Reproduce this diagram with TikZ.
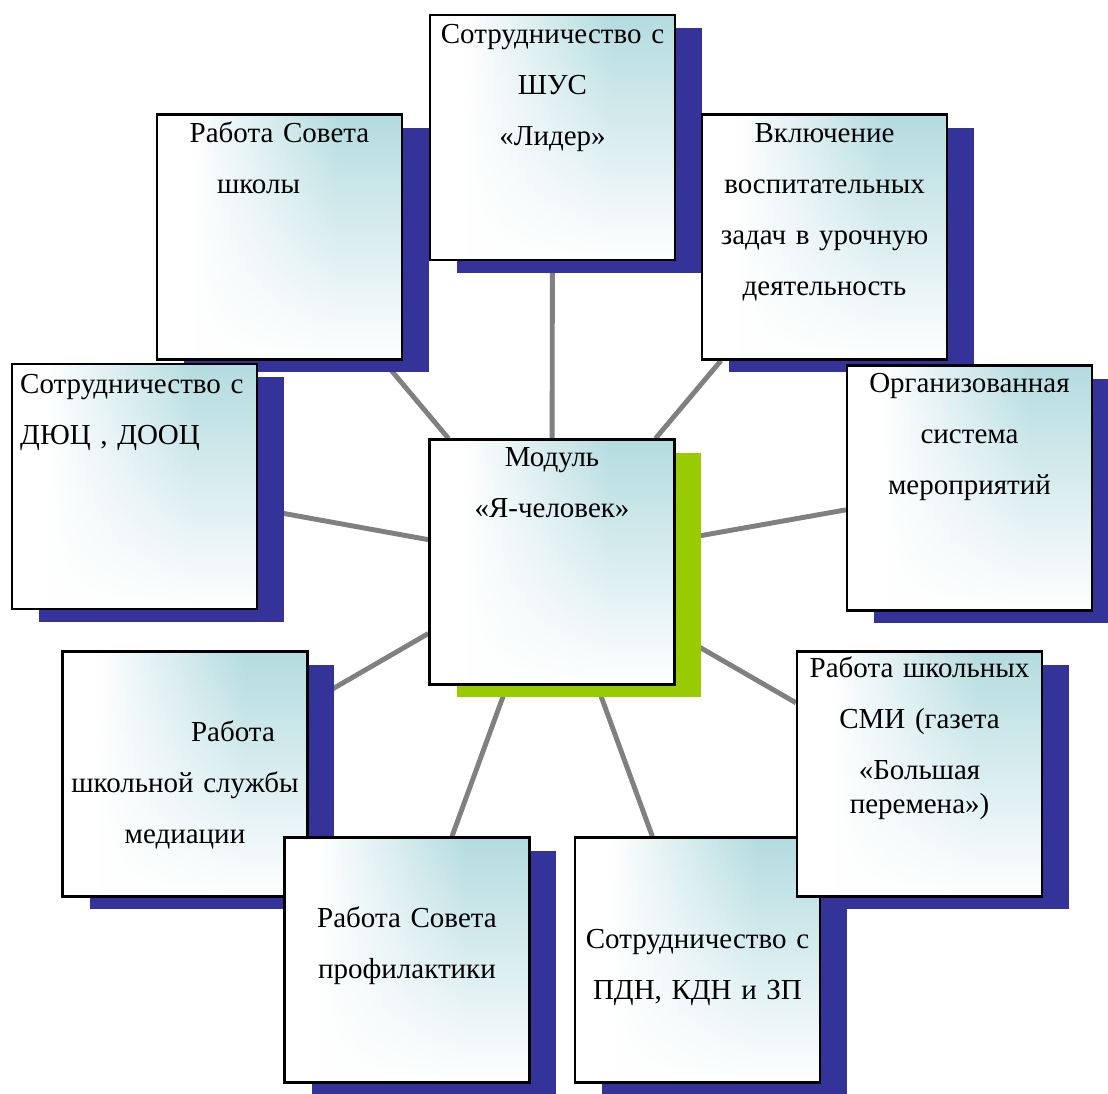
\documentclass[tikz,border=0pt]{standalone}
\usepackage{fontspec}
\setmainfont{Liberation Serif}
\usetikzlibrary{positioning,shadows,fadings,backgrounds}

\definecolor{shadowblue}{RGB}{51,51,153}
\definecolor{hubgreen}{RGB}{153,204,0}
\definecolor{boxteal}{RGB}{180,220,224}
\definecolor{linkgray}{RGB}{128,128,128}

\pgfdeclarehorizontalshading{tealside}{100bp}{color(0bp)=(white); color(32bp)=(white); color(62bp)=(boxteal); color(100bp)=(boxteal)}
\tikzfading[name=fadebottom, top color=transparent!100, middle color=transparent!62, bottom color=transparent!0]

\begin{document}
\begin{tikzpicture}[x=0.02cm,y=-0.02cm,
    panel/.style={draw=black,line width=1.3pt,minimum width=4.9cm,minimum height=4.9cm,inner sep=0pt,
        path picture={
            \shade[shading=tealside] (path picture bounding box.south west) rectangle (path picture bounding box.north east);
            \fill[white,path fading=fadebottom] (path picture bounding box.south west) rectangle (path picture bounding box.north east);}},
    box/.style={panel,general shadow={fill=shadowblue,shadow xshift=0.54cm,shadow yshift=-0.26cm}},
    hub/.style={panel,general shadow={fill=hubgreen,shadow xshift=0.54cm,shadow yshift=-0.26cm}},
    txt/.style={anchor=base,text width=4.7cm,align=center,inner sep=0pt,font=\fontsize{16.5pt}{29pt}\selectfont},
    link/.style={draw=linkgray,line width=2.8pt}]
    \useasboundingbox (0,0) rectangle (1108,1093);
    % outer ring
    \node[box] (sovet) at (279.5,237) {};
    \node[txt] (sovet-t) at ([yshift=-0.58cm]sovet.north) {Работа Совета\\\hspace*{-0.84cm}школы};
    \node[box] (shus) at (552.5,137.5) {};
    \node[txt] (shus-t) at ([yshift=-0.6cm]shus.north) {Сотрудничество с\\ШУС\\«Лидер»};
    \node[box] (vkl) at (824.5,237) {};
    \node[txt] (vkl-t) at ([yshift=-0.58cm]vkl.north) {Включение\\воспитательных\\задач в урочную\\деятельность};
    \node[box] (dyuc) at (134.5,486.5) {};
    \node[txt,anchor=base west,align=left] (dyuc-t) at ([xshift=0.18cm,yshift=-0.62cm]dyuc.north west) {Сотрудничество с\\ДЮЦ , ДООЦ};
    \node[box] (org) at (969.5,488) {};
    \node[txt] (org-t) at ([yshift=-0.56cm]org.north) {Организованная\\система\\мероприятий};
    % hub
    \node[hub] (modul) at (552,562) {};
    \node[txt] (modul-t) at ([yshift=-0.56cm]modul.north) {Модуль\\«Я-человек»};
    \node[box] (med) at (185,774) {};
    \node[txt] (med-t) at ([yshift=-1.82cm]med.north) {\hspace*{1.92cm}Работа\\школьной службы\\медиации};
    \node[box] (prof) at (407,960) {};
    \node[txt] (prof-t) at ([yshift=-1.82cm]prof.north) {Работа Совета\\профилактики};
    \node[box] (pdn) at (697.5,960) {};
    \node[txt] (pdn-t) at ([yshift=-2.24cm]pdn.north) {Сотрудничество с\\ПДН, КДН и ЗП};
    \node[box] (smi) at (919.5,774) {};
    \node[txt] (smi-t) at ([yshift=-0.54cm]smi.north) {Работа школьных\\СМИ (газета\\«Большая\\[-9.7pt]перемена»)};
    % spokes
    \begin{scope}[on background layer]
        \foreach \n in {shus,sovet,vkl,dyuc,org,med,smi,prof,pdn}
            \draw[link] (modul) -- (\n);
    \end{scope}
\end{tikzpicture}
\end{document}
